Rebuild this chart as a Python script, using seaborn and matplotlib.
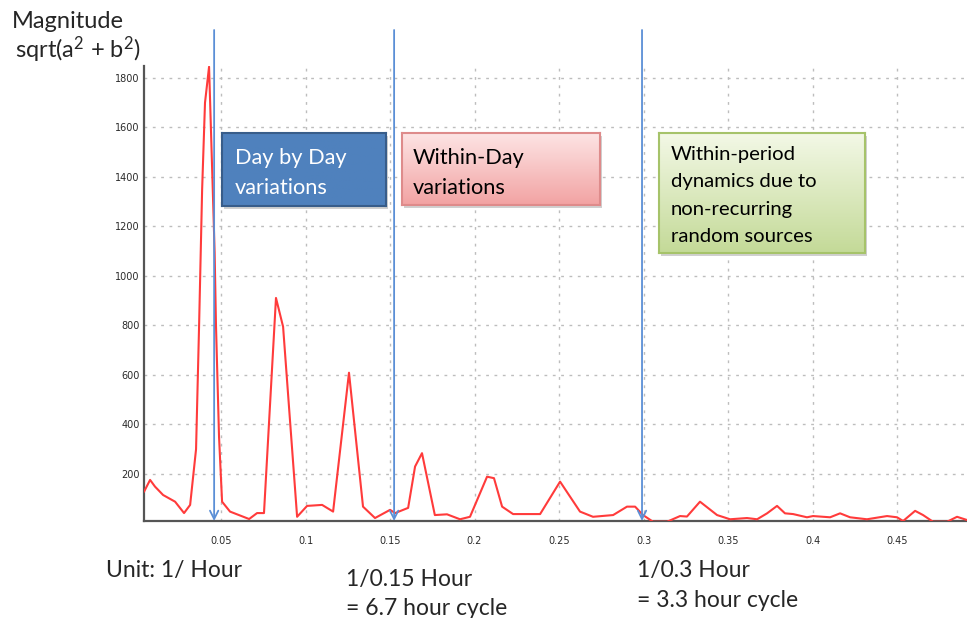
import numpy as np
import matplotlib
matplotlib.use("Agg")
import matplotlib.pyplot as plt
import seaborn as sns

sns.set_style("white")
plt.rcParams['font.family'] = ['Lato', 'DejaVu Sans']
plt.rcParams['mathtext.fontset'] = 'custom'
plt.rcParams['mathtext.rm'] = 'Lato'
plt.rcParams['mathtext.it'] = 'Lato'

## Data ##
freq = [0.0044, 0.0080, 0.0109, 0.0157, 0.0228, 0.0281, 0.0317, 0.0352, 0.0370, 0.0388,
        0.0405, 0.0429, 0.0453, 0.0462, 0.0470, 0.0488, 0.0506, 0.0553, 0.0666, 0.0713,
        0.0754, 0.0825, 0.0867, 0.0950, 0.1009, 0.1098, 0.1163, 0.1257, 0.1340, 0.1411,
        0.1500, 0.1530, 0.1607, 0.1648, 0.1689, 0.1765, 0.1837, 0.1914, 0.1973, 0.2074,
        0.2115, 0.2163, 0.2228, 0.2388, 0.2506, 0.2624, 0.2701, 0.2820, 0.2902, 0.2950,
        0.2997, 0.3056, 0.3139, 0.3216, 0.3257, 0.3334, 0.3435, 0.3512, 0.3612, 0.3672,
        0.3731, 0.3790, 0.3837, 0.3885, 0.3967, 0.4003, 0.4104, 0.4163, 0.4222, 0.4322,
        0.4441, 0.4500, 0.4536, 0.4607, 0.4654, 0.4713, 0.4796, 0.4855, 0.4914]
magnitude = [128, 176, 149, 115, 88, 42, 75, 300, 800, 1350,
             1700, 1845, 1300, 1095, 800, 350, 88, 48, 18, 42,
             42, 911, 795, 27, 71, 75, 48, 609, 68, 22,
             55, 42, 63, 230, 284, 34, 37, 17, 27, 189,
             183, 68, 38, 38, 169, 48, 27, 34, 68, 68,
             34, 7, 7, 30, 28, 88, 34, 17, 22, 17,
             41, 71, 41, 38, 25, 30, 25, 41, 25, 17,
             30, 25, 10, 51, 34, 7, 7, 27, 14]

x_ticks = [0.05, 0.1, 0.15, 0.2, 0.25, 0.3, 0.35, 0.4, 0.45]
x_tick_labels = ["0.05", "0.1", "0.15", "0.2", "0.25", "0.3", "0.35", "0.4", "0.45"]
y_ticks = [200, 400, 600, 800, 1000, 1200, 1400, 1600, 1800]

arrow_freqs = [0.0459, 0.1524, 0.2991]

W, H = 967, 618


def fx(px):
    return px / W


def fy(py):
    return 1 - py / H


fig = plt.figure(figsize=(W / 100, H / 100), dpi=100)
ax = fig.add_axes([fx(144), fy(521), fx(967) - fx(144), fy(66) - fy(521)])

sns.lineplot(x=freq, y=magnitude, ax=ax, color="#ff3b3b", linewidth=1.5, sort=False, zorder=3)

ax.set_xlim(0.0044, 0.4914)
ax.set_ylim(10, 1848)
ax.set_xticks(x_ticks)
ax.set_xticklabels(x_tick_labels)
ax.set_yticks(y_ticks)
ax.grid(True, color="#bdbdbd", linestyle=(0, (2, 4)), linewidth=1)
ax.set_axisbelow(True)

for s in ["top", "right"]:
    ax.spines[s].set_visible(False)
for s in ["left", "bottom"]:
    ax.spines[s].set_color("#555555")
    ax.spines[s].set_linewidth(1.6)

ax.tick_params(axis="both", direction="in", length=8, width=1.6, color="#555555",
               labelsize=7, labelcolor="#2a2a2a")
ax.tick_params(axis="x", pad=11)
ax.tick_params(axis="y", pad=3)
for lab in ax.get_xticklabels() + ax.get_yticklabels():
    lab.set_family("DejaVu Sans")

# blue arrows marking the bands
for f in arrow_freqs:
    ax.annotate("", xy=(f, 0), xycoords=("data", "axes fraction"),
                xytext=(f, H - 30), textcoords=("data", "figure pixels"),
                annotation_clip=False,
                arrowprops=dict(arrowstyle="->,head_length=0.6,head_width=0.3",
                                color="#5b8fd6", lw=1.3, shrinkA=0, shrinkB=0),
                zorder=4)


def gradient_box(x0, y0, x1, y1, top, bottom, edge, shadow=True):
    if shadow:
        sh = fig.add_axes([fx(x0 + 2), fy(y1 + 3), fx(x1 - x0), fy(y0) - fy(y1)])
        sh.set_facecolor("#d0d0d0")
        sh.set_xticks([]); sh.set_yticks([])
        for sp in sh.spines.values():
            sp.set_visible(False)
    bx = fig.add_axes([fx(x0), fy(y1), fx(x1 - x0), fy(y0) - fy(y1)])
    c0 = np.array(matplotlib.colors.to_rgb(top))
    c1 = np.array(matplotlib.colors.to_rgb(bottom))
    t = np.linspace(0, 1, 64)[:, None]
    img = (c0 * (1 - t) + c1 * t)[:, None, :]
    bx.imshow(img, aspect="auto", extent=[0, 1, 0, 1])
    bx.set_xlim(0, 1); bx.set_ylim(0, 1)
    bx.set_xticks([]); bx.set_yticks([])
    for sp in bx.spines.values():
        sp.set_color(edge)
        sp.set_linewidth(1.5)
    return bx


gradient_box(222, 133, 386, 206, "#4f81bd", "#4f81bd", "#385d8a")
gradient_box(402, 133, 600, 205, "#fde4e4", "#f2a3a3", "#de8b8b")
gradient_box(659, 133, 865, 253, "#f3f8e6", "#c4da98", "#a6c36a")

fig.text(fx(235), fy(164), "Day by Day", color="white", fontsize=15.7, va="baseline")
fig.text(fx(235), fy(194), "variations", color="white", fontsize=15.7, va="baseline")
fig.text(fx(413), fy(164), "Within-Day", color="black", fontsize=15.7, va="baseline")
fig.text(fx(413), fy(194), "variations", color="black", fontsize=15.7, va="baseline")
green_lines = ["Within-period", "dynamics due to", "non-recurring", "random sources"]
for i, line in enumerate(green_lines):
    fig.text(fx(671), fy(160 + 27.5 * i), line, color="black", fontsize=14.6, va="baseline")

fig.text(fx(12), fy(28), "Magnitude", fontsize=17, va="baseline")
fig.text(fx(15), fy(58), "sqrt(a$^{2}$ + b$^{2}$)", fontsize=17, va="baseline")

fig.text(fx(106), fy(577), "Unit: 1/ Hour", fontsize=16.5, va="baseline")
fig.text(fx(346), fy(586), "1/0.15 Hour", fontsize=16.5, va="baseline")
fig.text(fx(346), fy(615), "= 6.7 hour cycle", fontsize=16.5, va="baseline")
fig.text(fx(637), fy(577), "1/0.3 Hour", fontsize=16.5, va="baseline")
fig.text(fx(637), fy(607), "= 3.3 hour cycle", fontsize=16.5, va="baseline")

fig.savefig("out.png", dpi=100)
